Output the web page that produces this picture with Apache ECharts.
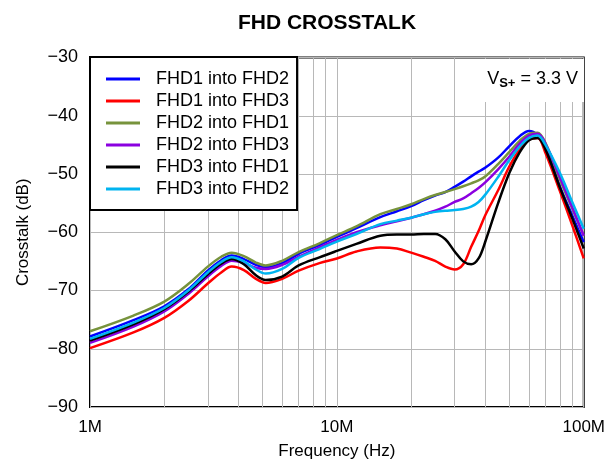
<!DOCTYPE html>
<html>
<head>
<meta charset="utf-8">
<script src="https://cdn.jsdelivr.net/npm/echarts@6/dist/echarts.min.js"></script>
<style>
  html, body { margin: 0; padding: 0; background: #fff; }
  #chart { width: 608px; height: 465px; }
</style>
</head>
<body>
<div id="chart"></div>
<script>
// frequency points, MHz
const freqMHz = [1, 1.5, 2, 2.5, 3, 3.4, 3.75, 4.2, 4.7, 5.15, 6, 7, 8.5, 10, 12, 15, 17.5, 20, 22.5, 25,
  27.5, 30, 32.5, 35, 37.5, 40, 45, 50, 55, 60, 65, 70, 80, 90, 100];

// crosstalk, dB
const fhd1to2 = [-77.9, -75.1, -72.7, -69.8, -66.6, -64.8, -64.0, -64.6, -65.6, -66.0, -65.3, -63.7, -62.2, -60.8, -59.3, -57.4, -56.4, -55.5, -54.5, -53.7,
  -53.1, -52.2, -51.3, -50.4, -49.6, -48.9, -47.2, -45.2, -43.5, -42.6, -43.3, -45.4, -52.1, -57.2, -61.7];
const fhd1to3 = [-79.9, -77.2, -74.7, -71.8, -68.8, -66.9, -65.9, -66.5, -68.0, -68.7, -68.0, -66.6, -65.3, -64.5, -63.3, -62.6, -62.8, -63.5, -64.2, -64.9,
  -65.9, -66.4, -65.5, -62.5, -59.8, -57.0, -52.8, -48.7, -45.8, -44.1, -43.8, -46.4, -52.9, -58.9, -64.5];
const fhd2to1 = [-77.0, -74.3, -71.9, -68.9, -65.9, -64.2, -63.5, -64.1, -65.2, -65.7, -64.9, -63.4, -61.9, -60.5, -59.0, -56.9, -56.0, -55.2, -54.3, -53.6,
  -53.1, -52.6, -52.1, -51.6, -51.1, -50.4, -48.3, -46.2, -44.3, -43.1, -42.9, -44.7, -50.9, -56.0, -60.6];
const fhd2to3 = [-79.0, -76.2, -73.6, -70.6, -67.6, -65.8, -64.9, -65.3, -66.1, -66.3, -65.6, -64.2, -62.6, -61.3, -60.0, -58.8, -58.1, -57.5, -56.9, -56.3,
  -55.6, -54.8, -54.2, -53.3, -52.4, -51.4, -49.2, -47.0, -44.8, -43.4, -43.1, -44.8, -50.5, -55.8, -60.6];
const fhd3to1 = [-78.6, -75.8, -73.2, -70.2, -67.2, -65.4, -64.6, -65.5, -67.4, -68.2, -67.6, -65.7, -64.3, -63.2, -62.0, -60.6, -60.4, -60.4, -60.3, -60.3,
  -61.2, -63.3, -65.0, -65.5, -64.5, -61.5, -55.0, -49.8, -46.3, -44.2, -43.8, -45.8, -52.3, -57.7, -62.8];
const fhd3to2 = [-78.3, -75.5, -73.0, -70.0, -66.9, -65.1, -64.3, -65.0, -66.4, -67.1, -66.3, -64.4, -62.9, -61.6, -60.3, -58.6, -58.0, -57.5, -56.9, -56.5,
  -56.3, -56.2, -56.0, -55.6, -54.8, -53.5, -50.5, -47.6, -45.3, -43.8, -43.4, -45.0, -49.8, -54.9, -59.4];

// minor log grid lines, MHz
const minorGridMHz = [2, 3, 4, 5, 6, 7, 8, 9, 20, 30, 40, 50, 60, 70, 80, 90];

const FONT = 'Liberation Sans, Arial, sans-serif';
const GRID_COLOR = '#b8b8b8';

const seriesDefs = [
  { name: 'FHD1 into FHD2', color: '#0000ff', values: fhd1to2 },
  { name: 'FHD1 into FHD3', color: '#ff0000', values: fhd1to3 },
  { name: 'FHD2 into FHD1', color: '#77933c', values: fhd2to1 },
  { name: 'FHD2 into FHD3', color: '#8b00e0', values: fhd2to3 },
  { name: 'FHD3 into FHD1', color: '#000000', values: fhd3to1 },
  { name: 'FHD3 into FHD2', color: '#00b4f0', values: fhd3to2 }
];

const series = seriesDefs.map((s, i) => {
  const item = {
    name: s.name,
    type: 'line',
    data: freqMHz.map((f, k) => [f * 1e6, s.values[k]]),
    smooth: 0.35,
    showSymbol: false,
    symbol: 'none',
    color: s.color,
    lineStyle: { color: s.color, width: 2.5 },
    z: 3
  };
  if (i === 0) {
    // minor decade grid, placed through the log axis
    item.markLine = {
      silent: true,
      symbol: 'none',
      animation: false,
      label: { show: false },
      lineStyle: { color: GRID_COLOR, width: 1, type: 'solid' },
      z: 1,
      data: minorGridMHz.map(f => ({ xAxis: f * 1e6 }))
    };
  }
  return item;
});

const chart = echarts.init(document.getElementById('chart'));
chart.setOption({
  animation: false,
  backgroundColor: '#fff',
  title: {
    text: 'FHD CROSSTALK',
    left: 322,
    textAlign: 'center',
    top: 8,
    textStyle: { fontFamily: FONT, fontSize: 21, fontWeight: 'bold', color: '#000' }
  },
  grid: {
    left: 90, right: 22, top: 57.5, bottom: 55,
    show: true, borderColor: '#000', borderWidth: 2
  },
  legend: {
    orient: 'vertical',
    left: 90,
    top: 57,
    padding: [13, 8, 12, 16],
    itemGap: 4,
    itemWidth: 34,
    itemHeight: 3,
    icon: 'rect',
    backgroundColor: '#fff',
    borderColor: '#000',
    borderWidth: 2,
    textStyle: { fontFamily: FONT, fontSize: 18, color: '#000', lineHeight: 18, padding: [0, 0, 0, 11] },
    data: seriesDefs.map(s => s.name)
  },
  xAxis: {
    type: 'log',
    logBase: 10,
    min: 1e6,
    max: 1e8,
    name: 'Frequency (Hz)',
    nameLocation: 'middle',
    nameGap: 36,
    nameTextStyle: { fontFamily: FONT, fontSize: 17, color: '#000' },
    axisLine: { show: false },
    axisTick: { show: false },
    axisLabel: {
      fontFamily: FONT, fontSize: 17, color: '#000', margin: 12,
      formatter: v => (v / 1e6) + 'M'
    },
    splitLine: { show: true, lineStyle: { color: GRID_COLOR, width: 1 } }
  },
  yAxis: {
    type: 'value',
    min: -90,
    max: -30,
    interval: 10,
    name: 'Crosstalk (dB)',
    nameLocation: 'middle',
    nameGap: 58,
    nameTextStyle: { fontFamily: FONT, fontSize: 17, color: '#000' },
    axisLine: { show: false },
    axisTick: { show: false },
    axisLabel: {
      fontFamily: FONT, fontSize: 18, color: '#000', margin: 12,
      formatter: v => (v < 0 ? '\u2212' + Math.abs(v) : String(v))
    },
    splitLine: { show: true, lineStyle: { color: GRID_COLOR, width: 1 } }
  },
  graphic: [
    {
      type: 'rect',
      z: 50,
      shape: { x: 468, y: 59, width: 116, height: 43 },
      style: { fill: '#fff' }
    },
    {
      type: 'text',
      z: 51,
      x: 578,
      y: 79,
      style: {
        text: '{v|V}{s|S+}{v| = 3.3 V}',
        align: 'right',
        verticalAlign: 'middle',
        fill: '#000',
        rich: {
          v: { fontFamily: FONT, fontSize: 18, fill: '#000' },
          s: { fontFamily: FONT, fontSize: 13, fontWeight: 'bold', fill: '#000', padding: [9, 0, 0, 0] }
        }
      }
    }
  ],
  series: series
});
</script>
</body>
</html>
